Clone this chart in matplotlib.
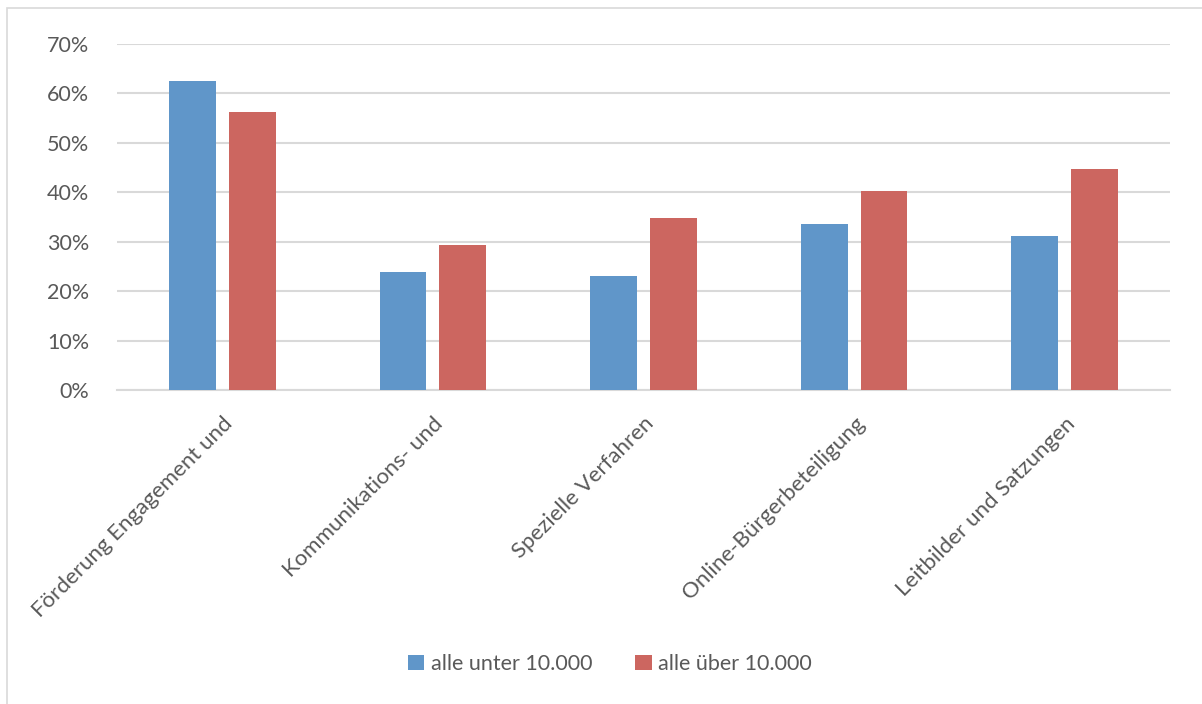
import matplotlib
matplotlib.use("Agg")
import matplotlib.pyplot as plt
import numpy as np
from matplotlib.patches import Rectangle

categories = ["Förderung Engagement und", "Kommunikations- und", "Spezielle Verfahren",
              "Online-Bürgerbeteiligung", "Leitbilder und Satzungen"]
series_names = ["alle unter 10.000", "alle über 10.000"]
unter = [62.5, 23.9, 23.1, 33.6, 31.2]
ueber = [56.2, 29.3, 34.8, 40.3, 44.7]
yticks = [0, 10, 20, 30, 40, 50, 60, 70]

blue = "#6096c9"
red = "#cc6660"
grid_c = "#d9d9d9"
txt_c = "#595959"

plt.rcParams['font.family'] = ['Lato', 'DejaVu Sans']
FS = 15.5

W, H = 1202, 704
fig = plt.figure(figsize=(W / 100, H / 100), dpi=100)
# chart border
fig.patches.append(Rectangle((7 / W, -0.1), 1.5, 1 - 8 / H + 0.1, transform=fig.transFigure,
                             fill=False, edgecolor="#d9d9d9", linewidth=1.2))

ax = fig.add_axes([117 / W, 1 - 390 / H, (1170 - 117) / W, (390 - 44) / H])
x = np.arange(len(categories))
bw = 0.223
off = 0.142
ax.bar(x - off, unter, bw, color=blue, label=series_names[0], zorder=3)
ax.bar(x + off, ueber, bw, color=red, label=series_names[1], zorder=3)

ax.set_xlim(-0.5, len(categories) - 0.5)
ax.set_ylim(0, 70)
ax.set_yticks(yticks)
ax.set_yticklabels([f"{v}%" for v in yticks], fontsize=FS, color=txt_c)
ax.yaxis.grid(True, color=grid_c, linewidth=1.5, zorder=0)
for s in ["top", "right", "left"]:
    ax.spines[s].set_visible(False)
ax.spines["bottom"].set_color(grid_c)
ax.spines["bottom"].set_linewidth(1.5)
ax.tick_params(axis="y", length=0, pad=20)
ax.tick_params(axis="x", length=0, pad=17)
ax.set_xticks(x + 0.0)
ax.set_xticklabels(categories, rotation=45, ha="right", va="top", rotation_mode="anchor",
                   fontsize=16, color=txt_c)

leg = fig.legend(loc="center", bbox_to_anchor=(610 / W, 1 - 664 / H), ncol=2, frameon=False,
                 fontsize=FS, handlelength=0.75, handleheight=0.75, handletextpad=0.3,
                 columnspacing=2.0, labelcolor=txt_c)

fig.savefig("out.png", dpi=100)
